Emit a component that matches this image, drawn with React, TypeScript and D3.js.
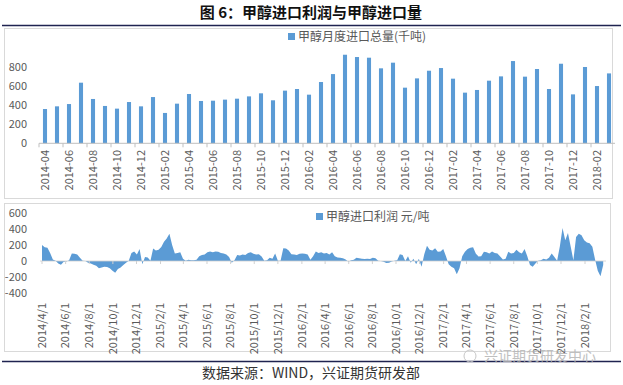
import React from "react";
import * as d3 from "d3";

// 甲醇月度进口总量(千吨)
const months = [
  "2014-04", "2014-05", "2014-06", "2014-07", "2014-08", "2014-09", "2014-10", "2014-11", "2014-12",
  "2015-01", "2015-02", "2015-03", "2015-04", "2015-05", "2015-06", "2015-07", "2015-08", "2015-09",
  "2015-10", "2015-11", "2015-12", "2016-01", "2016-02", "2016-03", "2016-04", "2016-05", "2016-06",
  "2016-07", "2016-08", "2016-09", "2016-10", "2016-11", "2016-12", "2017-01", "2017-02", "2017-03",
  "2017-04", "2017-05", "2017-06", "2017-07", "2017-08", "2017-09", "2017-10", "2017-11", "2017-12",
  "2018-01", "2018-02", "2018-03",
];
const imports = [
  358, 386, 410, 633, 463, 390, 362, 431, 386,
  483, 317, 414, 515, 442, 445, 456, 466, 490,
  522, 449, 550, 567, 508, 640, 723, 925, 901,
  894, 783, 842, 581, 678, 758, 786, 675, 529,
  557, 654, 699, 859, 696, 776, 567, 831, 511,
  797, 598, 730,
];
const volTicks = [0, 200, 400, 600, 800];

// 甲醇进口利润 元/吨, weekly readings from 2014-04-01
const profitStart = "2014-04-01";
const profitWeekly = [
  200, 170, 165, 100, 20, 5, -30, -45, -10, -5,
  10, 95, 90, 80, 40, 5, 0, -20, -30, -45,
  -60, -90, -80, -70, -75, -90, -120, -145, -100, -80,
  -50, -20, 5, 100, 120, 80, 150, -40, 50, 45,
  5, 155, 130, 140, 175, 240, 280, 340, 200, 95,
  100, 108, 30, 5, 15, 10, 10, 15, 60, 75,
  80, 110, 120, 110, 120, 115, 100, 95, 80, 50,
  -20, 10, 75, 70, 80, 75, 100, 110, 90, 80,
  85, 55, 5, 10, 40, 30, 95, 5, 5, 160,
  155, 130, 85, 80, 75, 90, 95, 90, 80, 15,
  60, 120, 100, 110, 95, 100, 80, 110, 60, 45,
  40, 35, 20, -10, 10, 15, 40, 35, 30, 25,
  30, 25, 40, 35, 5, 0, -10, -25, -20, -5,
  5, 10, 85, 75, 0, 60, -20, 30, -40, 30,
  -70, 85, 190, 140, 130, 160, 115, 120, 150, 60,
  -40, -70, -90, -165, -90, 60, 115, 150, 165, 170,
  95, 55, 60, 115, 110, 95, 120, 100, 95, 55,
  20, 30, 115, 95, 100, 140, 110, 95, 150, 60,
  -50, -70, -30, 5, 10, 30, 20, 40, 95, 50,
  5, 180, 410, 260, 350, 180, 10, 300, 340, 320,
  260, 230, 220, 178, 20, -120, -190, -50,
];
const profitTicks = [-400, -200, 0, 200, 400, 600];
const profitDateLabels = [
  "2014/4/1", "2014/6/1", "2014/8/1", "2014/10/1", "2014/12/1",
  "2015/2/1", "2015/4/1", "2015/6/1", "2015/8/1", "2015/10/1", "2015/12/1",
  "2016/2/1", "2016/4/1", "2016/6/1", "2016/8/1", "2016/10/1", "2016/12/1",
  "2017/2/1", "2017/4/1", "2017/6/1", "2017/8/1", "2017/10/1", "2017/12/1",
  "2018/2/1",
];

const FONT = "'Noto Sans CJK SC', 'Liberation Sans', sans-serif";
const BLUE = "#5b9bd5";
const TXT = "#595959";
const BORDER = "#d9d9d9";
const NAVY = "#1f2350";

const parseSlash = d3.timeParse("%Y/%m/%d");
const parseDay = d3.timeParse("%Y-%m-%d");

const App = () => {
  // top: monthly import volume
  const xBand = d3
    .scaleBand()
    .domain(months)
    .range([39, 615])
    .paddingInner(0.66)
    .paddingOuter(0.33);
  const yVol = d3.scaleLinear().domain([0, 800]).range([143.3, 66.7]);
  const step = xBand.step();

  // bottom: daily import profit
  const start = parseDay(profitStart) as Date;
  const profit = profitWeekly.map((v, i) => ({
    date: d3.timeDay.offset(start, i * 7),
    value: v,
  }));
  const xTime = d3
    .scaleTime()
    .domain([start, parseSlash("2018/2/1") as Date])
    .range([42, 585]);
  const yProfit = d3.scaleLinear().domain([-400, 600]).range([293.2, 212.8]);
  const area = d3
    .area<{ date: Date; value: number }>()
    .x((d) => xTime(d.date))
    .y0(yProfit(0))
    .y1((d) => yProfit(d.value));

  return (
    <svg
      width={623}
      height={385}
      style={{ position: "absolute", left: 0, top: 0, background: "#fff" }}
      fontFamily={FONT}
    >
      {/* title */}
      <text x={311} y={18} textAnchor="middle" fontSize={15} fontWeight="bold" fill="#111">
        图 6：甲醇进口利润与甲醇进口量
      </text>
      <line x1={2} x2={621} y1={25.5} y2={25.5} stroke={NAVY} strokeWidth={1.5} />

      {/* top panel */}
      <rect x={4.5} y={28.5} width={608} height={170} fill="#fff" stroke={BORDER} />
      <rect x={288} y={33} width={7} height={7} fill={BLUE} />
      <text x={298} y={41} fontSize={12} fill={TXT}>
        甲醇月度进口总量(千吨)
      </text>
      {volTicks.map((t) => (
        <text key={t} x={27} y={yVol(t)} dy="0.35em" textAnchor="end" fontSize={11} fill={TXT}>
          {t}
        </text>
      ))}
      {months.map((m, i) => (
        <rect
          key={m}
          x={xBand(m)}
          y={yVol(imports[i])}
          width={xBand.bandwidth()}
          height={yVol(0) - yVol(imports[i])}
          fill={BLUE}
        />
      ))}
      <line x1={39} x2={615} y1={yVol(0)} y2={yVol(0)} stroke="#bfbfbf" />
      {months.map((m, i) =>
        i % 2 === 0 ? (
          <g key={m}>
            <line
              x1={39 + i * step}
              x2={39 + i * step}
              y1={yVol(0)}
              y2={yVol(0) + 4}
              stroke="#bfbfbf"
            />
            <text
              transform={`translate(${(xBand(m) as number) + xBand.bandwidth() / 2},150)rotate(-90)`}
              dy="0.35em"
              textAnchor="end"
              fontSize={11}
              fill={TXT}
            >
              {m}
            </text>
          </g>
        ) : null
      )}

      {/* bottom panel */}
      <rect x={4.5} y={203.5} width={606} height={148} fill="#fff" stroke={BORDER} />
      <rect x={316} y={213} width={7} height={7} fill={BLUE} />
      <text x={326} y={221} fontSize={12} fill={TXT}>
        甲醇进口利润 元/吨
      </text>
      {profitTicks.map((t) => (
        <text key={t} x={27} y={yProfit(t)} dy="0.35em" textAnchor="end" fontSize={11} fill={TXT}>
          {t}
        </text>
      ))}
      <path d={area(profit) ?? ""} fill={BLUE} />
      <line x1={40} x2={606} y1={yProfit(0)} y2={yProfit(0)} stroke="#d0d0d0" strokeWidth={0.8} />
      {profitDateLabels.map((lbl) => {
        const px = xTime(parseSlash(lbl) as Date);
        return (
          <g key={lbl}>
            <line x1={px} x2={px} y1={yProfit(0)} y2={yProfit(0) + 3} stroke="#d0d0d0" />
            <text
              transform={`translate(${px},303)rotate(-90)`}
              dy="0.35em"
              textAnchor="end"
              fontSize={11}
              fill={TXT}
            >
              {lbl}
            </text>
          </g>
        );
      })}

      {/* footer */}
      <line x1={2} x2={621} y1={361.5} y2={361.5} stroke={NAVY} strokeWidth={1.5} />
      <text x={311} y={378} textAnchor="middle" fontSize={14} fill="#333">
        数据来源：WIND，兴证期货研发部
      </text>
      <circle cx={470} cy={356} r={6} fill="none" stroke="#c8c8c8" strokeWidth={1} />
      <text x={484} y={361} fontSize={14} fill="#b5b5b5" opacity={0.85}>
        兴证期货研发中心
      </text>
    </svg>
  );
};

export default App;
